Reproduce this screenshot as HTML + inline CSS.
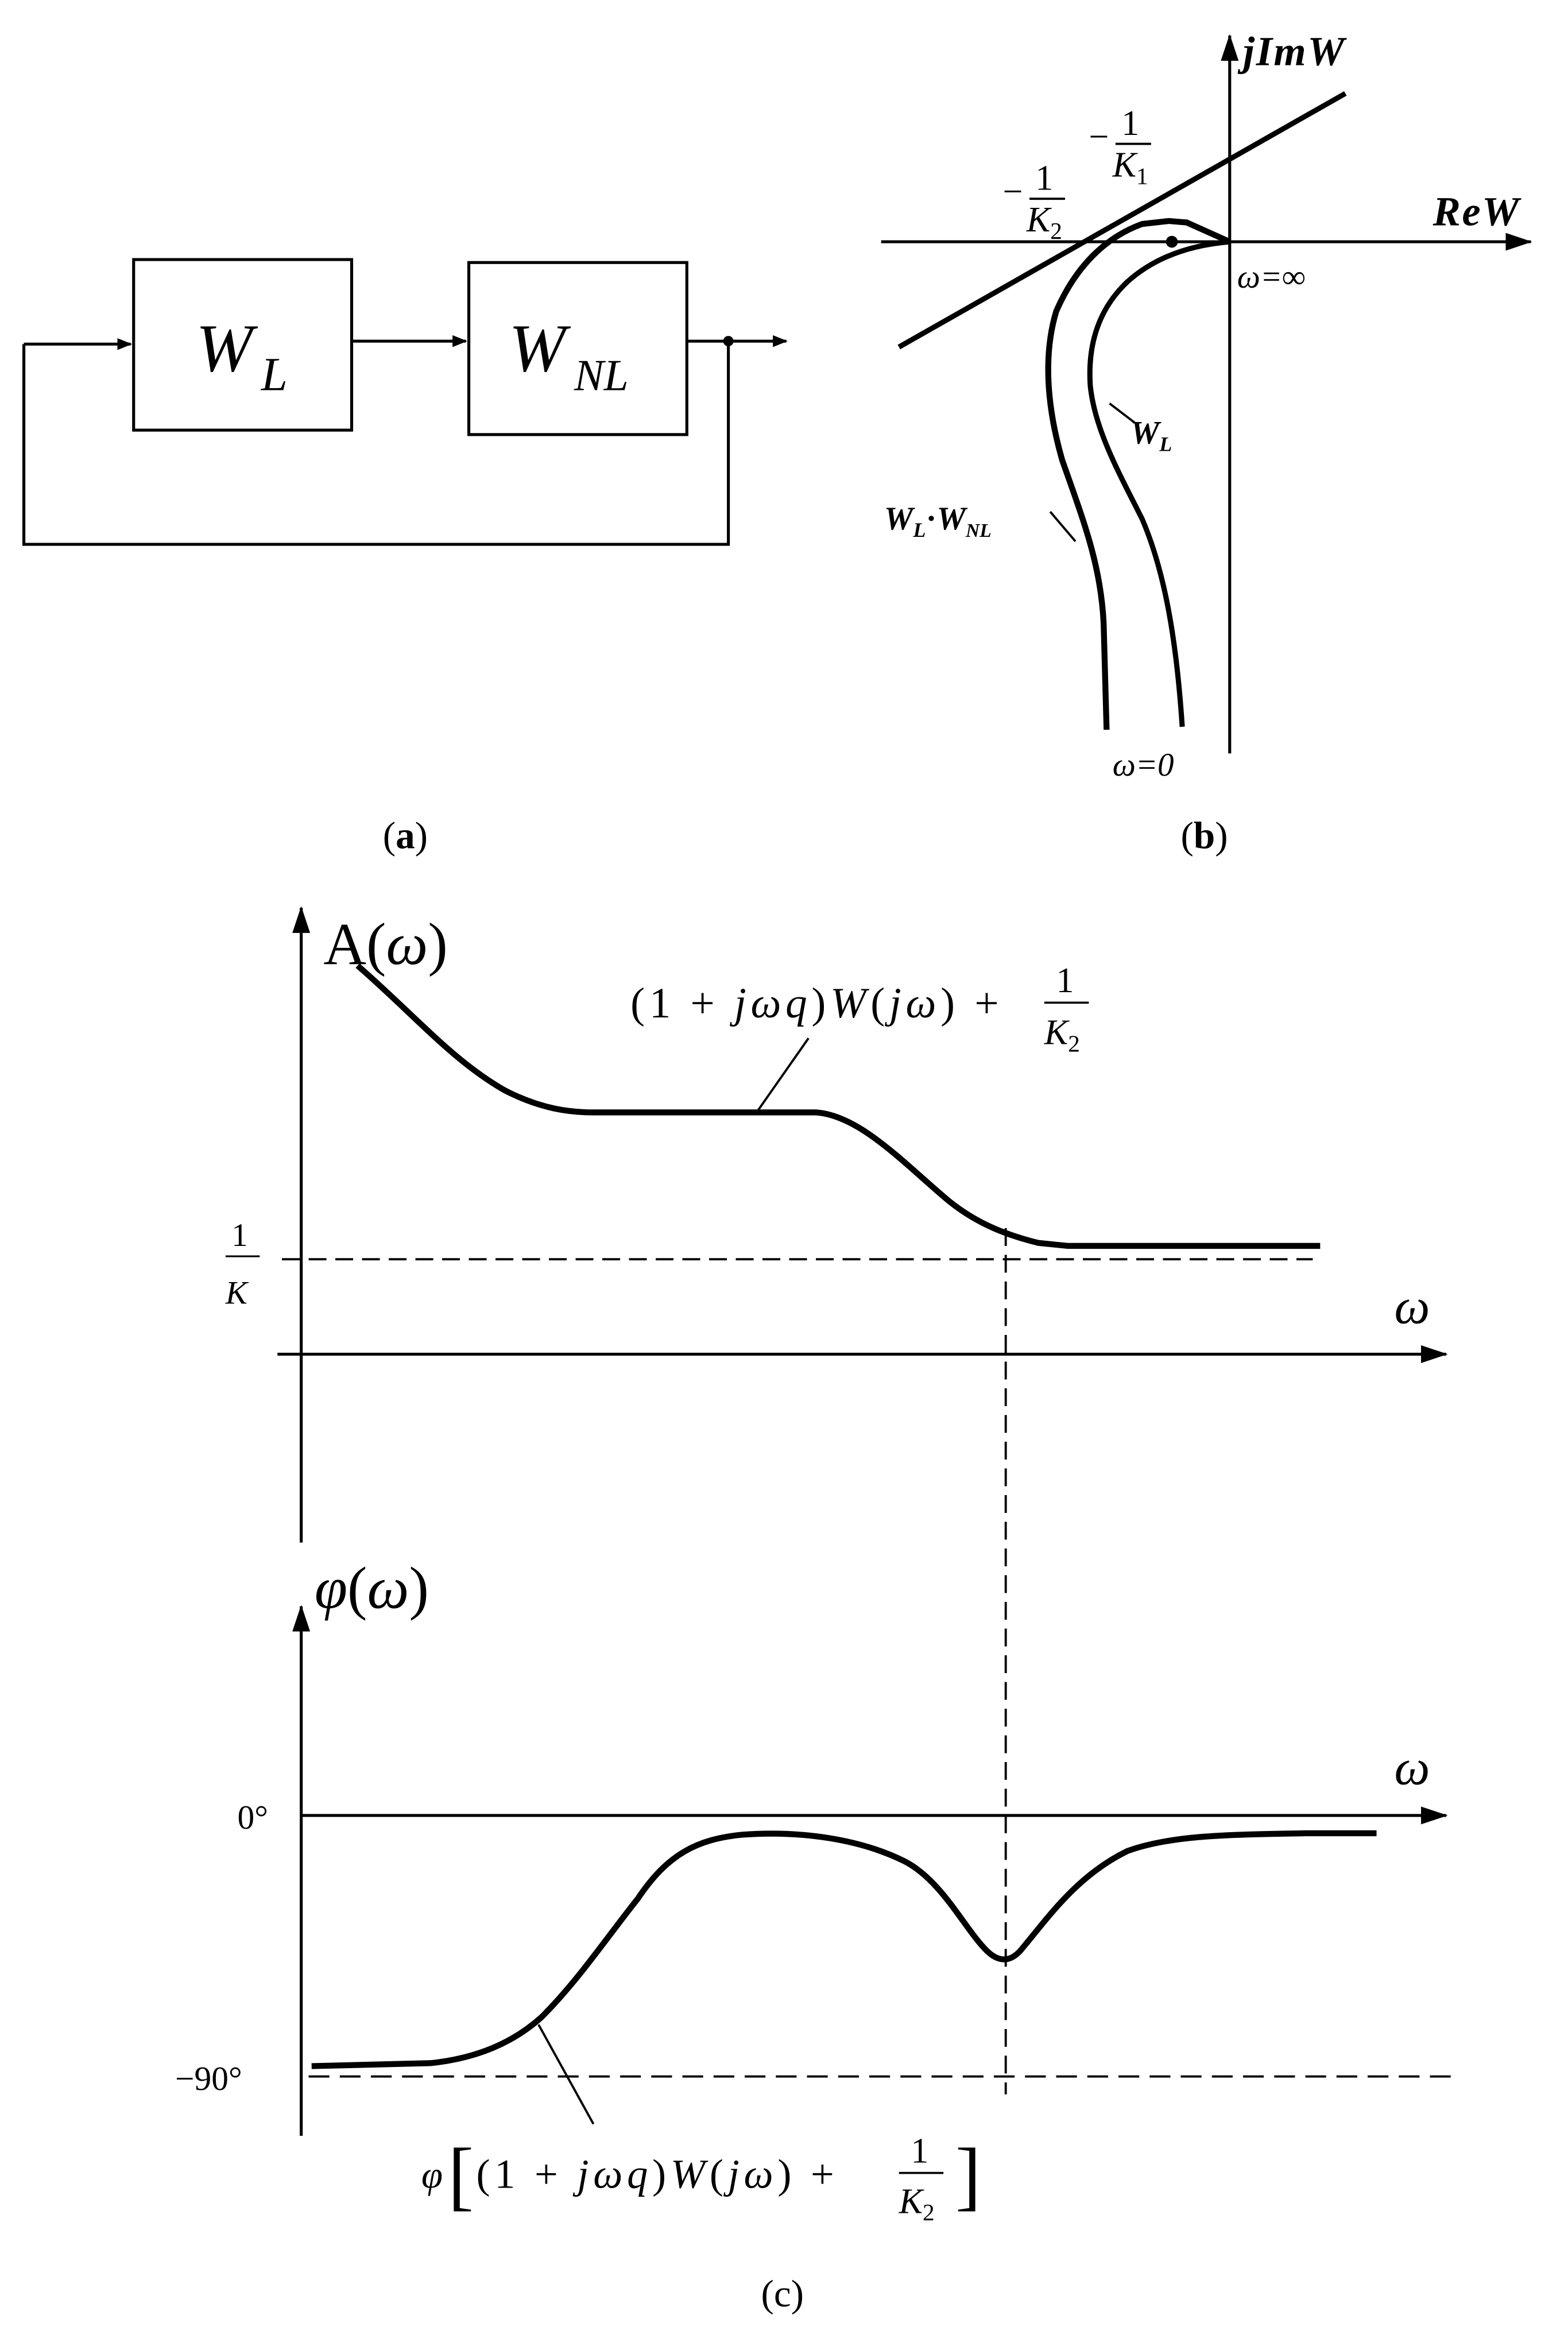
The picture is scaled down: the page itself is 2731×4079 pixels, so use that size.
<!DOCTYPE html>
<html><head><meta charset="utf-8"><style>
html,body{margin:0;padding:0;background:#fff}
svg{display:block}
text{font-family:"Liberation Serif",serif;fill:#000}
.it{font-style:italic}
</style></head><body>
<svg width="2731" height="4079" viewBox="0 0 1057 1579" xmlns="http://www.w3.org/2000/svg">
<defs>
<marker id="ah" markerWidth="10" markerHeight="8" refX="9" refY="4" orient="auto" markerUnits="userSpaceOnUse"><path d="M0,0 L10,4 L0,8 Z" fill="#000"/></marker>
<marker id="ah2" markerWidth="18" markerHeight="12" refX="17" refY="6" orient="auto" markerUnits="userSpaceOnUse"><path d="M0,0 L18,6 L0,12 Z" fill="#000"/></marker>
</defs>
<!-- (a) -->
<g stroke="#000" stroke-width="2" fill="none">
<rect x="90" y="175" width="147" height="115"/>
<rect x="316" y="177" width="147" height="116"/>
<line x1="16" y1="232" x2="88" y2="232" marker-end="url(#ah)"/>
<line x1="237" y1="230" x2="314" y2="230" marker-end="url(#ah)"/>
<line x1="463" y1="230" x2="530" y2="230" marker-end="url(#ah)"/>
<polyline points="16,232 16,367 491,367 491,230"/>
</g>
<circle cx="491" cy="230" r="3.5"/>
<text x="132" y="250" font-size="46" class="it">W</text><text x="176" y="263" font-size="32" class="it">L</text>
<text x="343" y="250" font-size="46" class="it">W</text><text x="387" y="263" font-size="30" class="it">NL</text>
<text x="258" y="572" font-size="26">(<tspan font-weight="bold">a</tspan>)</text>
<!-- (b) -->
<g stroke="#000" fill="none">
<line x1="829" y1="508" x2="829" y2="24" stroke-width="2" marker-end="url(#ah2)"/>
<line x1="594" y1="163" x2="1032" y2="163" stroke-width="2" marker-end="url(#ah2)"/>
<line x1="606" y1="234" x2="907" y2="63" stroke-width="3.5"/>
<path d="M829,163 L800,150 L788,149 L770,151 C745,160 725,180 712,210 C703,240 706,275 716,310 C730,350 742,380 744,420 L746,492" stroke-width="4"/>
<path d="M829,163 C805,165 780,172 760,190 C742,207 733,230 735,260 C738,290 755,320 770,350 C785,385 793,430 797,490" stroke-width="3.5"/>
<line x1="765" y1="285" x2="748" y2="272" stroke-width="1.5"/>
<line x1="708" y1="345" x2="725" y2="365" stroke-width="1.5"/>
</g>
<circle cx="790" cy="163" r="4"/>
<text x="838" y="44" font-size="28" class="it" font-weight="bold" letter-spacing="1">jImW</text>
<text x="966" y="152" font-size="28" class="it" font-weight="bold" letter-spacing="1">ReW</text>
<text x="834" y="194" font-size="22" class="it">ω=∞</text>
<text x="750" y="523" font-size="22" class="it">ω=0</text>
<text x="734" y="100" font-size="24">−</text><text x="756" y="91" font-size="24">1</text><line x1="752" y1="97" x2="776" y2="97" stroke="#000" stroke-width="1.5"/><text x="750" y="119" font-size="24" class="it">K<tspan font-size="16" font-style="normal" dy="5">1</tspan></text>
<text x="676" y="137" font-size="24">−</text><text x="698" y="128" font-size="24">1</text><line x1="694" y1="134" x2="718" y2="134" stroke="#000" stroke-width="1.5"/><text x="692" y="156" font-size="24" class="it">K<tspan font-size="16" font-style="normal" dy="5">2</tspan></text>
<text x="762" y="299" font-size="22" class="it" font-weight="bold">W<tspan font-size="14" dy="5">L</tspan></text>
<text x="596" y="357" font-size="22" class="it" font-weight="bold">W<tspan font-size="14" dy="5">L</tspan><tspan dy="-5" font-style="normal">·</tspan>W<tspan font-size="13" dy="5">NL</tspan></text>
<text x="796" y="572" font-size="26">(<tspan font-weight="bold">b</tspan>)</text>
<!-- (c) upper -->
<g stroke="#000" fill="none">
<line x1="203" y1="1040" x2="203" y2="612" stroke-width="2" marker-end="url(#ah2)"/>
<line x1="187" y1="913" x2="975" y2="913" stroke-width="2" marker-end="url(#ah2)"/>
<line x1="190" y1="849" x2="885" y2="849" stroke-width="1.5" stroke-dasharray="12,6"/>
<line x1="678" y1="828" x2="678" y2="1412" stroke-width="1.5" stroke-dasharray="12,6"/>
<path d="M241,651 C280,685 305,715 340,735 C365,748 385,750 400,750 L550,750 C580,752 610,785 640,810 C660,826 680,833 700,838 L720,840 L890,840" stroke-width="4"/>
<line x1="545" y1="700" x2="510" y2="750" stroke-width="1.5"/>
</g>
<text x="218" y="650" font-size="40">A(<tspan class="it">ω</tspan>)</text>
<text x="940" y="892" font-size="34" class="it">ω</text>
<text x="156" y="840" font-size="22">1</text><line x1="152" y1="847" x2="175" y2="847" stroke="#000" stroke-width="1.2"/><text x="152" y="879" font-size="22" class="it">K</text>
<text x="425" y="686" font-size="29" letter-spacing="3">(1 + <tspan class="it">jωq</tspan>)<tspan class="it">W</tspan>(<tspan class="it">jω</tspan>) +</text>
<text x="712" y="669" font-size="24">1</text><line x1="704" y1="676" x2="734" y2="676" stroke="#000" stroke-width="1.4"/><text x="704" y="704" font-size="24" class="it">K<tspan font-size="16" font-style="normal" dy="5">2</tspan></text>
<!-- (c) lower -->
<g stroke="#000" fill="none">
<line x1="203" y1="1440" x2="203" y2="1083" stroke-width="2" marker-end="url(#ah2)"/>
<line x1="203" y1="1224" x2="975" y2="1224" stroke-width="2" marker-end="url(#ah2)"/>
<line x1="208" y1="1400" x2="982" y2="1400" stroke-width="1.5" stroke-dasharray="14,7"/>
<path d="M210,1393 L290,1391 C320,1388 345,1378 365,1360 C390,1335 410,1305 430,1280 C450,1250 470,1240 500,1237 C540,1234 580,1240 610,1255 C635,1268 650,1300 665,1315 C672,1322 680,1324 688,1315 C705,1295 725,1265 760,1248 C790,1237 830,1237 880,1236 L928,1236" stroke-width="4"/>
<line x1="363" y1="1365" x2="400" y2="1432" stroke-width="1.5"/>
</g>
<text x="212" y="1084" font-size="40" class="it">φ<tspan font-style="normal">(</tspan>ω<tspan font-style="normal">)</tspan></text>
<text x="940" y="1203" font-size="34" class="it">ω</text>
<text x="160" y="1233" font-size="23">0°</text>
<text x="118" y="1409" font-size="23">−90°</text>
<text x="284" y="1475" font-size="26" class="it">φ</text>
<text x="302" y="1484" font-size="52">[</text>
<text x="321" y="1475" font-size="28" letter-spacing="3">(1 + <tspan class="it">jωq</tspan>)<tspan class="it">W</tspan>(<tspan class="it">jω</tspan>) +</text>
<text x="614" y="1458" font-size="24">1</text><line x1="606" y1="1465" x2="636" y2="1465" stroke="#000" stroke-width="1.4"/><text x="606" y="1492" font-size="24" class="it">K<tspan font-size="16" font-style="normal" dy="5">2</tspan></text>
<text x="644" y="1484" font-size="52">]</text>
<text x="513" y="1555" font-size="26">(c)</text>
</svg>
</body></html>
